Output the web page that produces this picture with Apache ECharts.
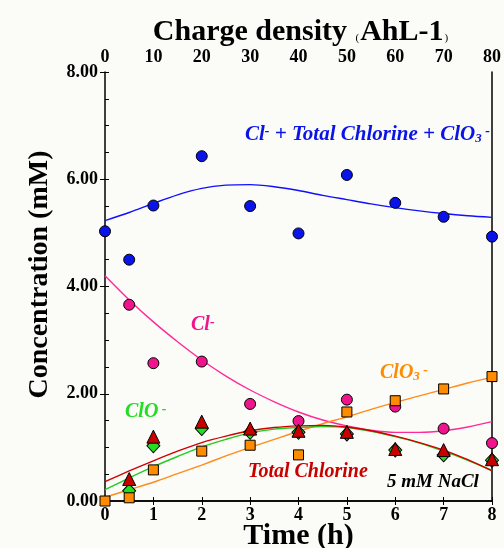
<!DOCTYPE html>
<html>
<head>
<meta charset="utf-8">
<script src="https://cdn.jsdelivr.net/npm/echarts@6/dist/echarts.min.js"></script>
<style>
html,body{margin:0;padding:0;background:#fbfbf7;}
#c{width:504px;height:548px;}
</style>
</head>
<body>
<div id="c"></div>
<script>
// ---- data ----
var pointTimes = [0, 0.5, 1, 2, 3, 4, 5, 6, 7, 8];
var totalPts    = [5.03, 4.50, 5.51, 6.43, 5.50, 4.99, 6.08, 5.56, 5.30, 4.93];
var chloridePts = [null, 3.66, 2.57, 2.60, 1.81, 1.49, 1.89, 1.76, 1.35, 1.08];
var totalClPts  = [null, 0.41, 1.20, 1.48, 1.35, 1.31, 1.29, 0.97, 0.95, 0.78];
var cloPts      = [null, 0.19, 1.03, 1.35, 1.28, 1.28, 1.25, 0.95, 0.86, 0.76];
var clo3Pts     = [0.00, 0.06, 0.58, 0.93, 1.04, 0.86, 1.66, 1.87, 2.09, 2.32];

// fitted curves, read every half hour
var curveTimes    = [0, 0.5, 1, 1.5, 2, 2.5, 3, 3.5, 4, 4.5, 5, 5.5, 6, 6.5, 7, 7.5, 8];
var totalCurve    = [5.23, 5.38, 5.55, 5.71, 5.83, 5.89, 5.90, 5.86, 5.79, 5.70, 5.62, 5.54, 5.47, 5.41, 5.36, 5.32, 5.29];
var chlorideCurve = [4.20, 3.75, 3.34, 2.97, 2.63, 2.33, 2.07, 1.85, 1.66, 1.51, 1.40, 1.32, 1.28, 1.28, 1.31, 1.38, 1.48];
var totalClCurve  = [0.36, 0.56, 0.75, 0.93, 1.09, 1.21, 1.31, 1.37, 1.40, 1.41, 1.38, 1.31, 1.21, 1.09, 0.95, 0.77, 0.56];
var cloCurve      = [0.21, 0.43, 0.64, 0.83, 1.01, 1.15, 1.27, 1.34, 1.37, 1.39, 1.37, 1.30, 1.20, 1.08, 0.93, 0.76, 0.57];
var clo3Curve     = [0.07, 0.21, 0.35, 0.51, 0.67, 0.84, 1.00, 1.15, 1.30, 1.44, 1.57, 1.71, 1.84, 1.96, 2.08, 2.20, 2.31];

var yTicks = [0, 2, 4, 6, 8];
var topTicks = [0, 10, 20, 30, 40, 50, 60, 70, 80];

function pairs(xs, ys) {
  var out = [];
  for (var i = 0; i < xs.length; i++) {
    if (ys[i] !== null) out.push([xs[i], ys[i]]);
  }
  return out;
}

var FONT = '"Liberation Serif", "Times New Roman", serif';
var chart = echarts.init(document.getElementById('c'), null, {renderer: 'canvas'});

function lineSeries(name, xs, ys, color) {
  return {
    name: name, type: 'line', data: pairs(xs, ys), smooth: 0.3,
    showSymbol: false, symbol: 'none', silent: true, z: 2,
    lineStyle: {color: color, width: 1.4}
  };
}
function scatterSeries(name, xs, ys, color, symbol, size, z) {
  return {
    name: name, type: 'scatter', data: pairs(xs, ys), symbol: symbol,
    symbolSize: size, z: z, silent: true,
    itemStyle: {color: color, borderColor: '#000', borderWidth: 1, opacity: 1}
  };
}

function label(x, y, text, rich) {
  return {type: 'text', x: x, y: y, z: 100, style: {text: text, rich: rich, align: 'left', verticalAlign: 'middle'}};
}
function tok(color, size, va) {
  var t = {fontFamily: FONT, fontStyle: 'italic', fontWeight: 'bold', fontSize: size, fill: color};
  if (va) { t.verticalAlign = va; }
  return t;
}

var option = {
  backgroundColor: '#fbfbf7',
  animation: false,
  grid: {left: 105, right: 12, top: 72, bottom: 47, containLabel: false, outerBoundsMode: 'none'},
  xAxis: [
    {
      type: 'value', position: 'bottom', min: 0, max: 8, interval: 1,
      name: 'Time (h)', nameLocation: 'middle', nameGap: 20, nameMoveOverlap: false,
      nameTextStyle: {fontFamily: FONT, fontWeight: 'bold', fontSize: 30, color: '#000'},
      axisLine: {show: true, lineStyle: {color: '#000', width: 1.5}},
      axisTick: {show: true, inside: true, length: 4, lineStyle: {color: '#000', width: 1}},
      axisLabel: {fontFamily: FONT, fontWeight: 'bold', fontSize: 18, color: '#000', margin: 5},
      splitLine: {show: false}
    },
    {
      type: 'value', position: 'top', min: topTicks[0], max: topTicks[topTicks.length - 1], interval: 10,
      axisLine: {show: true, lineStyle: {color: '#000', width: 1.5}},
      axisTick: {show: true, inside: true, length: 4, lineStyle: {color: '#000', width: 1}},
      axisLabel: {fontFamily: FONT, fontWeight: 'bold', fontSize: 18, color: '#000', margin: 6},
      splitLine: {show: false}
    }
  ],
  yAxis: [
    {
      type: 'value', position: 'left', min: yTicks[0], max: yTicks[yTicks.length - 1], interval: 2,
      name: 'Concentration (mM)', nameLocation: 'middle', nameGap: 51, nameMoveOverlap: false,
      nameTextStyle: {fontFamily: FONT, fontWeight: 'bold', fontSize: 28, color: '#000', padding: [0, 0, 0, 24]},
      axisLine: {show: true, lineStyle: {color: '#000', width: 1.5}},
      axisTick: {show: true, inside: false, length: 5, lineStyle: {color: '#000', width: 1}},
      axisLabel: {fontFamily: FONT, fontWeight: 'bold', fontSize: 18, color: '#000', margin: 7,
        formatter: function (v) { return v.toFixed(2); }},
      splitLine: {show: false}
    },
    {
      type: 'value', position: 'left', min: 0, max: 8, interval: 0.5,
      axisLine: {show: false},
      axisTick: {show: true, inside: true, length: 4, lineStyle: {color: '#000', width: 1}},
      axisLabel: {show: false},
      splitLine: {show: false}
    },
    {
      type: 'value', position: 'right', min: 0, max: 8, interval: 2,
      axisLine: {show: true, lineStyle: {color: '#000', width: 1.5}},
      axisTick: {show: false},
      axisLabel: {show: false},
      splitLine: {show: false}
    }
  ],
  series: [
    lineSeries('totalFit', curveTimes, totalCurve, '#1010ff'),
    lineSeries('chlorideFit', curveTimes, chlorideCurve, '#ff2a9a'),
    lineSeries('clo3Fit', curveTimes, clo3Curve, '#ff8c1a'),
    lineSeries('cloFit', curveTimes, cloCurve, '#22cc22'),
    lineSeries('totalClFit', curveTimes, totalClCurve, '#d00000'),
    scatterSeries('Cl-', pointTimes, chloridePts, '#f0148c', 'circle', 11, 5),
    scatterSeries('Total', pointTimes, totalPts, '#0a14e8', 'circle', 11, 6),
    scatterSeries('ClO-', pointTimes, cloPts, '#22dd22', 'diamond', [13, 14], 7),
    scatterSeries('Total Chlorine', pointTimes, totalClPts, '#c80000', 'triangle', 13, 8),
    scatterSeries('ClO3-', pointTimes, clo3Pts, '#ff8c00', 'rect', 10, 9)
  ],
  graphic: [
    {
      type: 'text', x: 301, y: 32, z: 100,
      style: {
        text: '{t|Charge density }{p|(}{t|AhL-1}{p|)}',
        align: 'center', verticalAlign: 'middle',
        rich: {
          t: {fontFamily: FONT, fontWeight: 'bold', fontSize: 30, fill: '#000', lineHeight: 32},
          p: {fontFamily: FONT, fontSize: 11, fill: '#000', lineHeight: 32, verticalAlign: 'bottom', padding: [0, 1, 4, 1]}
        }
      }
    },
    label(245, 135, '{a|Cl}{s|-}{a| + Total Chlorine + ClO}{b|3}{s| -}', {
      a: tok('#0a14e8', 21), s: tok('#0a14e8', 14, 'top'), b: tok('#0a14e8', 13, 'bottom')
    }),
    label(191, 325, '{a|Cl}{s|-}', {a: tok('#f0148c', 20), s: tok('#f0148c', 14, 'top')}),
    label(125, 412, '{a|ClO}{s| -}', {a: tok('#22dd22', 20), s: tok('#22dd22', 14, 'top')}),
    label(380, 373, '{a|ClO}{b|3}{s| -}', {a: tok('#ff8c00', 20), s: tok('#ff8c00', 14, 'top'), b: tok('#ff8c00', 13, 'bottom')}),
    label(248, 472, '{a|Total Chlorine}', {a: tok('#c80000', 20)}),
    label(387, 482, '{a|5 mM NaCl}', {a: tok('#000', 19)})
  ]
};
chart.setOption(option);
</script>
</body>
</html>
